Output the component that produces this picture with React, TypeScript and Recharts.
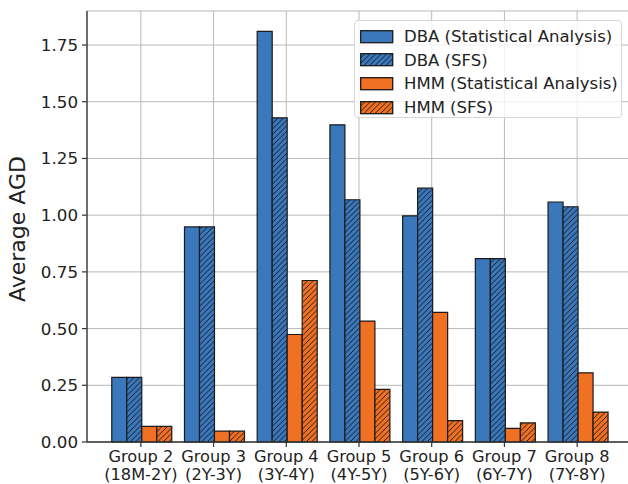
import { BarChart, Bar, XAxis, YAxis, CartesianGrid, Legend } from 'recharts'

const groups = ['Group 2', 'Group 3', 'Group 4', 'Group 5', 'Group 6', 'Group 7', 'Group 8']
const ageRanges = ['(18M-2Y)', '(2Y-3Y)', '(3Y-4Y)', '(4Y-5Y)', '(5Y-6Y)', '(6Y-7Y)', '(7Y-8Y)']

const dbaStat = [0.285, 0.948, 1.81, 1.398, 0.997, 0.808, 1.058]
const dbaSfs = [0.285, 0.948, 1.429, 1.068, 1.119, 0.808, 1.037]
const hmmStat = [0.069, 0.048, 0.474, 0.533, 0.571, 0.06, 0.305]
const hmmSfs = [0.069, 0.048, 0.712, 0.232, 0.094, 0.084, 0.132]

const yTicks = [0, 0.25, 0.5, 0.75, 1.0, 1.25, 1.5, 1.75]

const BLUE = '#3a77bb'
const ORANGE = '#f07124'
const EDGE = '#1a1a1a'
const SPINE = '#333333'
const FONT = '"DejaVu Sans", sans-serif'

const series = [
  { key: 'dbaStat', name: 'DBA (Statistical Analysis)', color: BLUE, hatch: false },
  { key: 'dbaSfs', name: 'DBA (SFS)', color: BLUE, hatch: true },
  { key: 'hmmStat', name: 'HMM (Statistical Analysis)', color: ORANGE, hatch: false },
  { key: 'hmmSfs', name: 'HMM (SFS)', color: ORANGE, hatch: true },
]

const data = groups.map((g, i) => ({
  group: g,
  dbaStat: dbaStat[i],
  dbaSfs: dbaSfs[i],
  hmmStat: hmmStat[i],
  hmmSfs: hmmSfs[i],
}))

const fillFor = (s: { key: string; color: string; hatch: boolean }) =>
  s.hatch ? `url(#hatch-${s.key})` : s.color

function XTick(props: any) {
  const { x, y, payload } = props
  const i = groups.indexOf(payload.value)
  return (
    <g>
      <text x={x} y={y + 14.6} textAnchor="middle" fontSize={16.2} fontFamily={FONT} fill="#222">
        {payload.value}
      </text>
      <text x={x} y={y + 33.4} textAnchor="middle" fontSize={16.2} fontFamily={FONT} fill="#222">
        {ageRanges[i]}
      </text>
    </g>
  )
}

function YLabel() {
  return (
    <text
      x={25}
      y={229}
      transform="rotate(-90 25 229)"
      textAnchor="middle"
      fontSize={22}
      fontFamily={FONT}
      fill="#222"
    >
      Average AGD
    </text>
  )
}

function LegendBox() {
  return (
    <div
      style={{
        width: 268,
        height: 98,
        boxSizing: 'border-box',
        border: '1px solid #d6d6d6',
        borderRadius: 4,
        background: 'rgba(255,255,255,0.8)',
        padding: '4px 0 0 5px',
        fontFamily: FONT,
        fontSize: 16.5,
        color: '#222',
      }}
    >
      {series.map((s) => (
        <div key={s.key} style={{ display: 'flex', alignItems: 'center', height: 23.6 }}>
          <svg width={34} height={14} style={{ marginRight: 10 }}>
            <rect x={0.7} y={0.7} width={32} height={12} fill={fillFor(s)} stroke={EDGE} strokeWidth={1.3} />
          </svg>
          <span style={{ whiteSpace: 'nowrap' }}>{s.name}</span>
        </div>
      ))}
    </div>
  )
}

export default function App() {
  return (
    <div style={{ width: 628, height: 484, overflow: 'hidden', position: 'relative', background: '#fff' }}>
      <style>{'body{margin:0}'}</style>
      <BarChart
        width={631}
        height={484}
        data={data}
        margin={{ top: 11, right: 0, bottom: 0, left: 0 }}
        barCategoryGap="10%"
        barGap={0}
      >
        <defs>
          {series
            .filter((s) => s.hatch)
            .map((s) => (
              <pattern
                key={s.key}
                id={`hatch-${s.key}`}
                patternUnits="userSpaceOnUse"
                width={5.5}
                height={5.5}
              >
                <rect width={5.5} height={5.5} fill={s.color} />
                <path
                  d="M0,5.5 L5.5,0 M-1.4,1.4 L1.4,-1.4 M4.1,6.9 L6.9,4.1"
                  stroke="#111"
                  strokeWidth={0.9}
                />
              </pattern>
            ))}
        </defs>
        <CartesianGrid stroke="#b8b8b8" strokeWidth={1} />
        <XAxis
          dataKey="group"
          padding={{ left: 17.5, right: 17.5 }}
          height={42}
          interval={0}
          tick={<XTick />}
          tickLine={{ stroke: SPINE, strokeWidth: 1.2 }}
          tickSize={5}
          tickMargin={0}
          axisLine={{ stroke: SPINE, strokeWidth: 1.3 }}
        />
        <XAxis
          xAxisId="top"
          dataKey="group"
          orientation="top"
          padding={{ left: 17.5, right: 17.5 }}
          height={0}
          tick={false}
          tickLine={false}
          axisLine={{ stroke: SPINE, strokeWidth: 1.3 }}
        />
        <YAxis
          domain={[0, 1.9]}
          ticks={yTicks}
          width={87}
          tickFormatter={(v: number) => v.toFixed(2)}
          tick={{ fontSize: 16.7, fontFamily: FONT, fill: '#222' }}
          tickLine={{ stroke: SPINE, strokeWidth: 1.2 }}
          tickSize={5}
          tickMargin={4}
          axisLine={{ stroke: SPINE, strokeWidth: 1.3 }}
          label={<YLabel />}
        />
        <Legend
          layout="horizontal"
          verticalAlign="middle"
          align="center"
          content={<LegendBox />}
          wrapperStyle={{ position: 'absolute', top: 20, left: 354, width: 268, height: 98 }}
        />
        {series.map((s) => (
          <Bar
            key={s.key}
            dataKey={s.key}
            name={s.name}
            fill={fillFor(s)}
            stroke={EDGE}
            strokeWidth={1.2}
            isAnimationActive={false}
          />
        ))}
      </BarChart>
    </div>
  )
}
